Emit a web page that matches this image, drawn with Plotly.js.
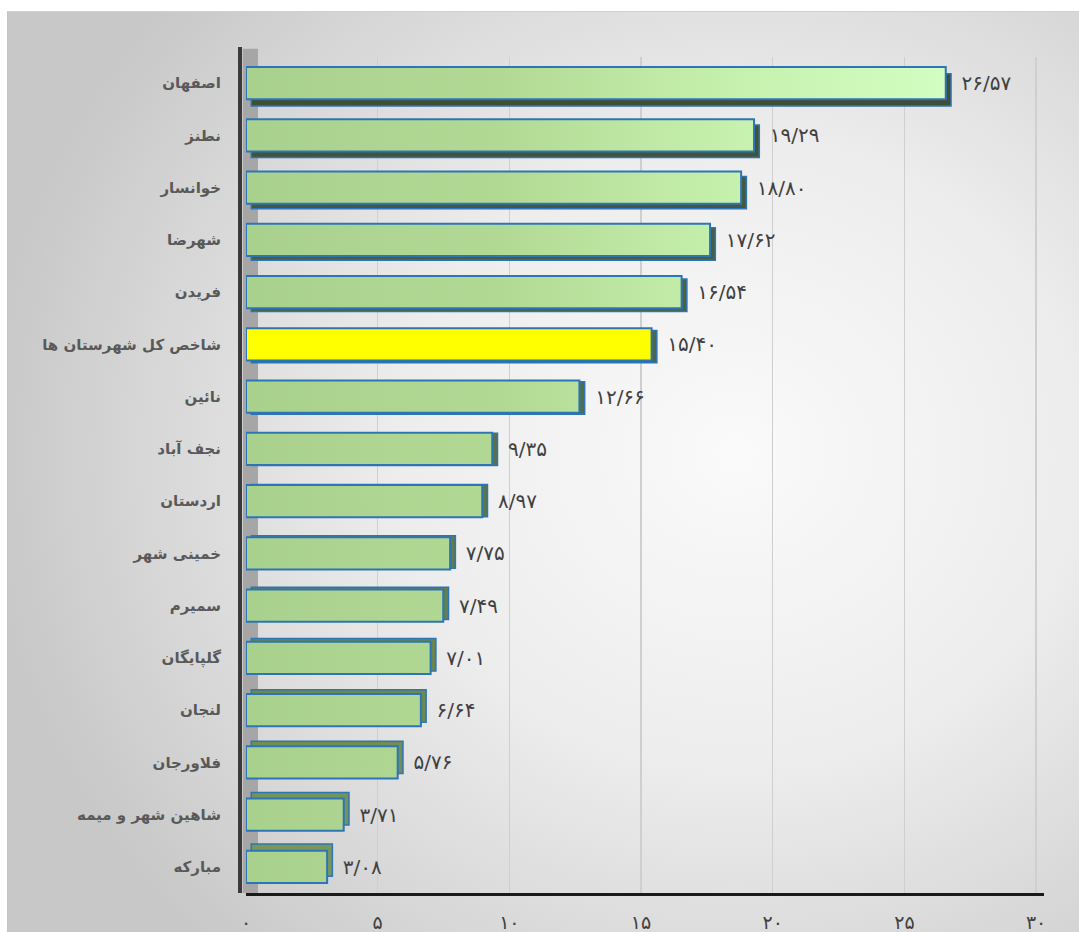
<!DOCTYPE html>
<html>
<head>
<meta charset="utf-8">
<script src="https://cdn.plot.ly/plotly-3.0.1.min.js"></script>
<style>
  html, body { margin: 0; padding: 0; background: #ffffff; }
  #bg { position: absolute; left: 7px; top: 11px; width: 1072px; height: 921px;
        background: radial-gradient(ellipse 70% 75% at 68% 48%, #fafafa 0%, #ededed 45%, #d6d6d6 80%, #c8c8c8 100%);
        border-left: 1px solid #c4c4c4; border-top: 1px solid #d0d0d0; box-sizing: border-box; }
  #chart { position: absolute; left: 0; top: 0; width: 1079px; height: 932px; }
</style>
</head>
<body>
<div id="bg"></div>
<div id="chart"></div>
<script>
// ---- data (top to bottom) ----
const categories = [
  'اصفهان', 'نطنز', 'خوانسار', 'شهرضا', 'فریدن', 'شاخص کل شهرستان ها',
  'نائین', 'نجف آباد', 'اردستان', 'خمینی شهر', 'سمیرم', 'گلپایگان',
  'لنجان', 'فلاورجان', 'شاهین شهر و میمه', 'مبارکه'
];
const values = [26.57, 19.29, 18.80, 17.62, 16.54, 15.40, 12.66, 9.35, 8.97, 7.75, 7.49, 7.01, 6.64, 5.76, 3.71, 3.08];
const highlightCategory = 'شاخص کل شهرستان ها';
const tickValues = [0, 5, 10, 15, 20, 25, 30];

// ---- helpers ----
const faDigits = '۰۱۲۳۴۵۶۷۸۹';
function toFa(s) { return String(s).replace(/[0-9]/g, d => faDigits[+d]); }
function fmt(v) { return toFa(v.toFixed(2)).replace('.', '/'); }

const n = categories.length;
const barW = 0.62;
const depthOffsets = categories.map((c, i) => -barW / 2 + 0.13 * (7.5 - i) / 7.5);
const depthColors = categories.map((c, i) => {
  const t = i / (n - 1);
  const r = Math.round(0x3f + t * (0x78 - 0x3f));
  const g = Math.round(0x4e + t * (0x98 - 0x4e));
  const b = Math.round(0x35 + t * (0x5a - 0x35));
  return `rgb(${r},${g},${b})`;
});
const mainColors = categories.map(c => c === highlightCategory ? '#ffff00' : '#b0d590');

const depth = {
  type: 'bar', orientation: 'h',
  y: categories, x: values, base: 0.2,
  width: barW, offset: depthOffsets,
  marker: { color: depthColors, line: { color: '#2e75b6', width: 1.5 } },
  hoverinfo: 'skip', showlegend: false
};
const main = {
  type: 'bar', orientation: 'h',
  y: categories, x: values,
  width: barW, offset: -barW / 2,
  marker: { color: mainColors, line: { color: '#2e75b6', width: 2 } },
  text: values.map(v => '\u00a0\u00a0' + fmt(v)),
  textposition: 'outside', cliponaxis: false,
  textfont: { family: 'DejaVu Sans', size: 20, color: '#404040' },
  hoverinfo: 'x+y', showlegend: false
};

const layout = {
  width: 1079, height: 932,
  paper_bgcolor: 'rgba(0,0,0,0)', plot_bgcolor: 'rgba(0,0,0,0)',
  margin: { l: 246, r: 35, t: 57, b: 39 },
  barmode: 'overlay',
  xaxis: {
    range: [0, 30.3], tickvals: tickValues, ticktext: tickValues.map(toFa),
    showgrid: true, gridcolor: '#cfcfcf', gridwidth: 1.5,
    zeroline: false, showline: true, linecolor: '#1a1a1a', linewidth: 3,
    ticks: '', ticklabelstandoff: 10,
    tickfont: { family: 'DejaVu Sans', size: 19, color: '#404040' }
  },
  yaxis: {
    type: 'category', autorange: 'reversed',
    showgrid: false, zeroline: false, showline: false, ticks: '',
    ticklabelstandoff: 24,
    tickfont: { family: 'DejaVu Sans', size: 15, color: '#595959', weight: 'bold' }
  },
  shapes: [
    { type: 'rect', layer: 'below', xref: 'paper', yref: 'paper', x0: -0.004, x1: 0.015, y0: 0, y1: 1.01,
      fillcolor: '#a6a6a6', line: { width: 0 } },
    { type: 'line', layer: 'above', xref: 'paper', yref: 'paper', x0: -0.0075, x1: -0.0075, y0: 0, y1: 1.012,
      line: { color: '#3a3a3a', width: 4 } }
  ],
  font: { family: 'DejaVu Sans' }
};

Plotly.newPlot('chart', [depth, main], layout, { displayModeBar: false, staticPlot: true }).then(gd => {
  // horizontal light-green gradient on the green bars (like the original fill)
  const svg = gd.querySelector('svg.main-svg');
  const ns = 'http://www.w3.org/2000/svg';
  let defs = svg.querySelector('defs');
  if (!defs) { defs = document.createElementNS(ns, 'defs'); svg.insertBefore(defs, svg.firstChild); }
  const plotW = gd._fullLayout._size.w;
  const lg = document.createElementNS(ns, 'linearGradient');
  lg.setAttribute('id', 'barGrad');
  lg.setAttribute('gradientUnits', 'userSpaceOnUse');
  lg.setAttribute('x1', '0'); lg.setAttribute('x2', String(plotW * 0.9));
  lg.setAttribute('y1', '0'); lg.setAttribute('y2', '0');
  [['0', '#a9d18e'], ['0.35', '#b2d994'], ['0.65', '#c4efab'], ['1', '#d4ffc4']].forEach(([o, c]) => {
    const s = document.createElementNS(ns, 'stop');
    s.setAttribute('offset', o); s.setAttribute('stop-color', c); lg.appendChild(s);
  });
  defs.appendChild(lg);
  const traces = gd.querySelectorAll('.barlayer .trace');
  const mainTrace = traces[1];
  mainTrace.querySelectorAll('.point').forEach((pt, i) => {
    if (categories[i] !== highlightCategory) {
      const p = pt.querySelector('path');
      if (p) p.style.fill = 'url(#barGrad)';
    }
  });
});
</script>
</body>
</html>
